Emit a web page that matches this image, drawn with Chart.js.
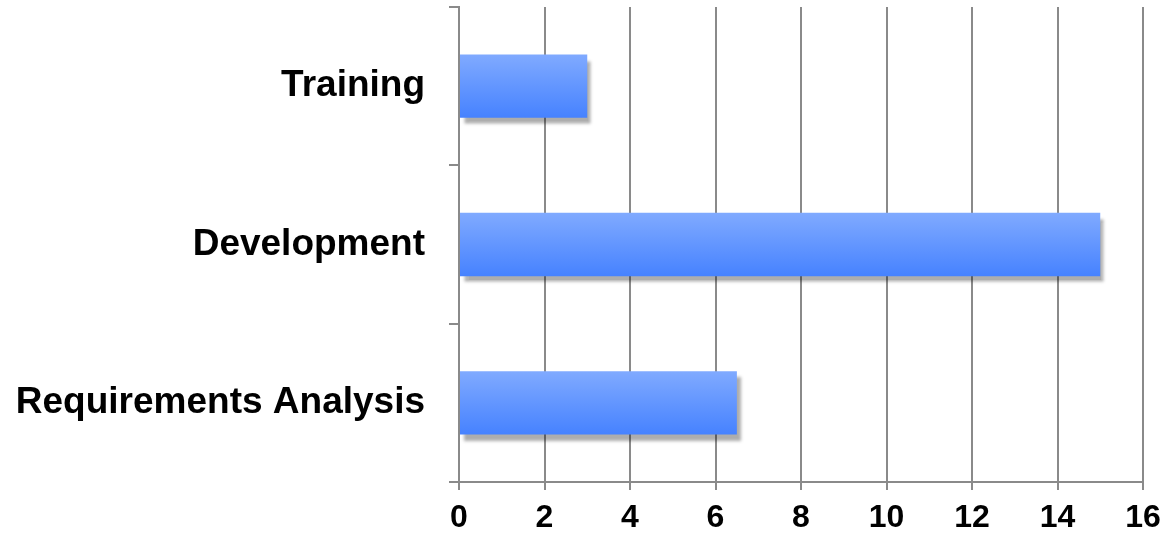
<!DOCTYPE html>
<html>
<head>
<meta charset="utf-8">
<script src="https://cdn.jsdelivr.net/npm/chart.js@4/dist/chart.umd.min.js"></script>
<style>
  html, body { margin: 0; padding: 0; background: #fff; }
  #wrap { width: 1163px; height: 533px; position: relative; }
</style>
</head>
<body>
<div id="wrap"><canvas id="barChart"></canvas></div>
<script>
const categories = ["Training", "Development", "Requirements Analysis"];
const durations = [3, 15, 6.5];
const xTicks = [0, 2, 4, 6, 8, 10, 12, 14, 16];

const gridColor = "#8a8a8a";
const fontFamily = "Liberation Sans, Arial, sans-serif";
const barPct = 0.4;

// vertical gradient for each bar, worked out from the category band
function barFill(context) {
  const chart = context.chart;
  const y = chart.scales.y;
  if (!y || context.dataIndex === undefined) return "#5f95ff";
  const center = y.getPixelForValue(context.dataIndex);
  const half = (y.height / categories.length) * barPct / 2;
  if (!isFinite(center) || !isFinite(half) || half <= 0) return "#5f95ff";
  const g = chart.ctx.createLinearGradient(0, center - half, 0, center + half);
  g.addColorStop(0, "#80aaff");
  g.addColorStop(1, "#4682ff");
  return g;
}

const barShadow = {
  id: "barShadow",
  beforeDatasetsDraw(chart) {
    const ctx = chart.ctx;
    ctx.save();
    ctx.shadowColor = "rgba(0, 0, 0, 0.32)";
    ctx.shadowOffsetX = 4;
    ctx.shadowOffsetY = 6;
    ctx.shadowBlur = 3;
  },
  afterDatasetsDraw(chart) {
    chart.ctx.restore();
  },
};

new Chart(document.getElementById("barChart"), {
  type: "bar",
  data: {
    labels: categories,
    datasets: [
      {
        data: durations,
        backgroundColor: barFill,
        borderWidth: 0,
        barPercentage: barPct,
        categoryPercentage: 1,
      },
    ],
  },
  options: {
    indexAxis: "y",
    responsive: true,
    maintainAspectRatio: false,
    animation: false,
    layout: { autoPadding: false, padding: { top: 7, right: 20, left: 0, bottom: 0 } },
    plugins: {
      legend: { display: false },
      tooltip: { enabled: false },
    },
    scales: {
      x: {
        min: 0,
        max: 16,
        afterBuildTicks: (scale) => {
          scale.ticks = xTicks.map((v) => ({ value: v }));
        },
        afterFit: (scale) => {
          scale.height = 51;
          scale.paddingLeft = 0;
          scale.paddingRight = 0;
        },
        grid: { color: gridColor, lineWidth: 2, tickLength: 8 },
        border: { color: gridColor, width: 2 },
        ticks: { color: "#000", font: { family: fontFamily, size: 32, weight: "bold" }, padding: 9 },
      },
      y: {
        afterFit: (scale) => {
          scale.width = 459;
          scale.paddingTop = 0;
          scale.paddingBottom = 0;
        },
        grid: {
          drawOnChartArea: false,
          offset: true,
          color: gridColor,
          lineWidth: 2,
          tickLength: 10,
        },
        border: { color: gridColor, width: 2 },
        ticks: { color: "#000", font: { family: fontFamily, size: 37, weight: "bold" }, padding: 24 },
      },
    },
  },
  plugins: [barShadow],
});
</script>
</body>
</html>
